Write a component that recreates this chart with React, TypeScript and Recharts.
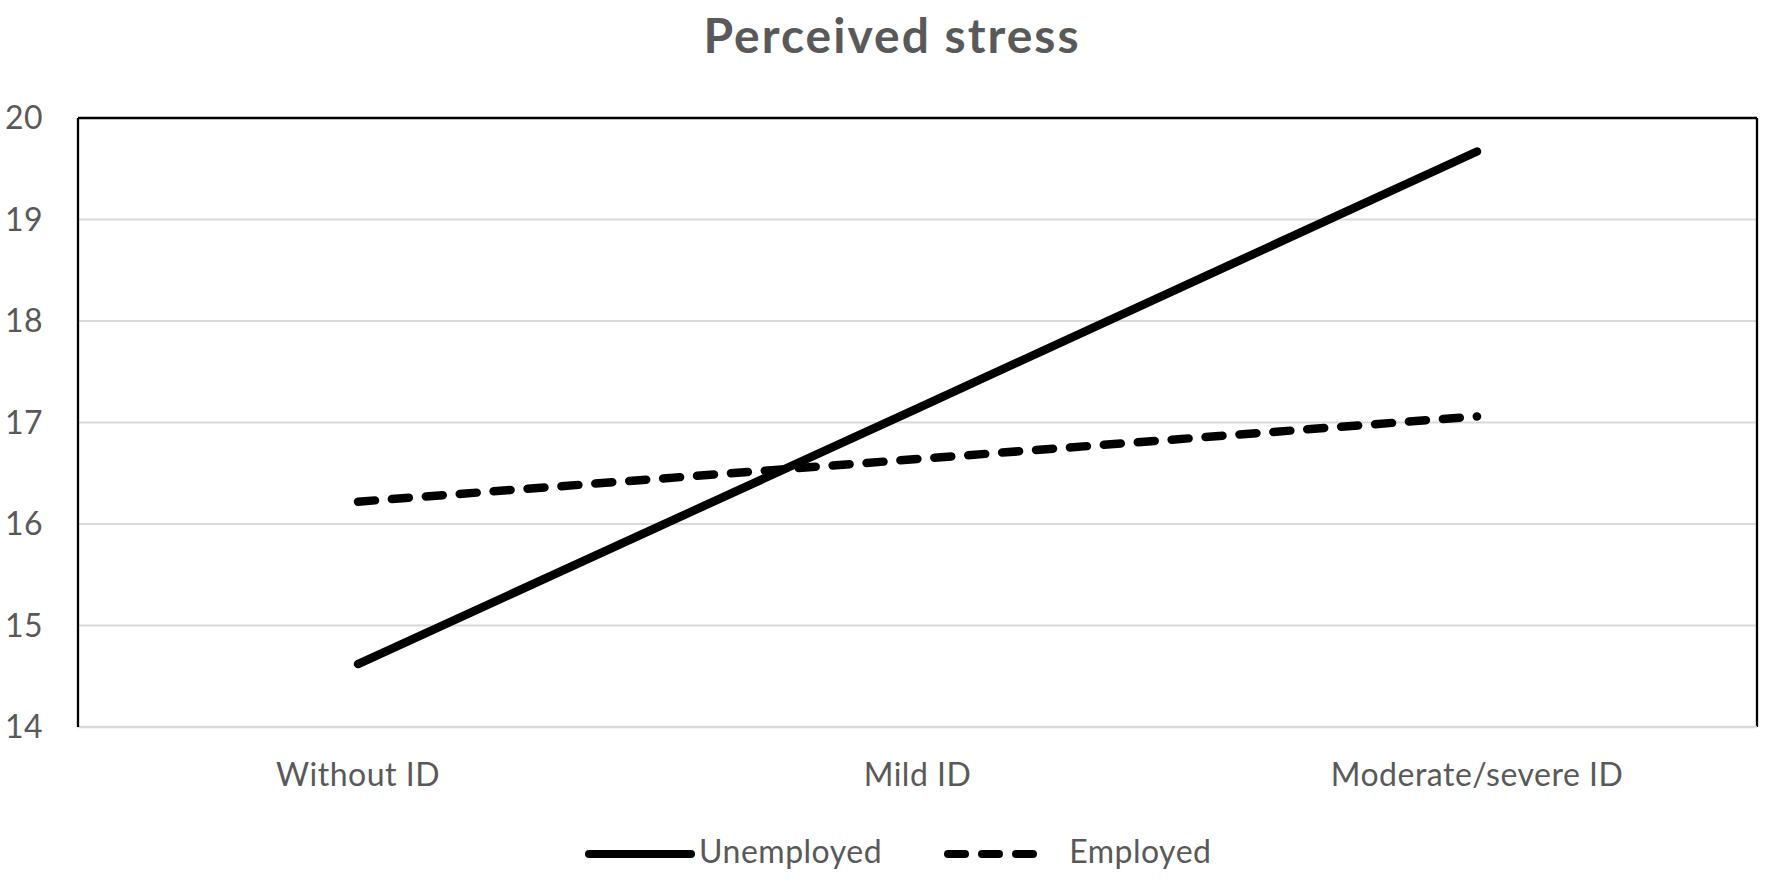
import React from "react";
import { LineChart, Line, XAxis, YAxis, CartesianGrid } from "recharts";

const categories = ["Without ID", "Mild ID", "Moderate/severe ID"];
const unemployed = [14.62, 17.14, 19.67];
const employed = [16.22, 16.64, 17.06];
const yTicks = [14, 15, 16, 17, 18, 19, 20];
const seriesNames = ["Unemployed", "Employed"];

const data = categories.map((name, i) => ({
  name,
  unemployed: unemployed[i],
  employed: employed[i],
}));

const FONT = "Lato, 'Open Sans', sans-serif";
const TEXT = "#595959";
const DASH = "17 17";
// half a category band, so points sit in the middle of each band like Excel
const BAND_PAD = 280;
const tickStyle = { fill: TEXT, fontSize: 32, fontFamily: FONT, letterSpacing: 0.5 };

const App = () => {
  return (
    <div
      style={{
        position: "absolute",
        left: 0,
        top: 0,
        width: 1772,
        height: 885,
        background: "#fff",
        fontFamily: FONT,
      }}
    >
      <div
        style={{
          position: "absolute",
          top: 11,
          left: 0,
          width: 1772,
          paddingLeft: 12,
          boxSizing: "border-box",
          textAlign: "center",
          fontSize: 48,
          lineHeight: "48px",
          letterSpacing: 2,
          fontWeight: 700,
          color: TEXT,
        }}
      >
        Perceived stress
      </div>

      <LineChart
        width={1772}
        height={885}
        data={data}
        margin={{ top: 118, right: 15, left: 0, bottom: 98 }}
      >
        <CartesianGrid vertical={false} stroke="#d9d9d9" strokeWidth={2} />
        {/* top and right edges of the plot frame */}
        <CartesianGrid
          stroke="#000"
          strokeWidth={2.3}
          horizontalCoordinatesGenerator={({ offset }) => [offset.top]}
          verticalCoordinatesGenerator={({ offset }) => [
            offset.left + offset.width,
          ]}
        />
        <XAxis
          dataKey="name"
          axisLine={{ stroke: "#d9d9d9", strokeWidth: 2.5 }}
          tickLine={false}
          tickSize={0}
          tickMargin={36}
          height={60}
          padding={{ left: BAND_PAD, right: BAND_PAD }}
          tick={tickStyle}
        />
        <YAxis
          domain={[14, 20]}
          ticks={yTicks}
          axisLine={{ stroke: "#000", strokeWidth: 2.3 }}
          tickLine={false}
          tickSize={0}
          tickMargin={35}
          width={78}
          tick={tickStyle}
        />
        <Line
          dataKey="unemployed"
          name={seriesNames[0]}
          stroke="#000"
          strokeWidth={8.5}
          strokeLinecap="round"
          dot={false}
          activeDot={false}
          isAnimationActive={false}
        />
        <Line
          dataKey="employed"
          name={seriesNames[1]}
          stroke="#000"
          strokeWidth={8.5}
          strokeLinecap="round"
          strokeDasharray={DASH}
          dot={false}
          activeDot={false}
          isAnimationActive={false}
        />
      </LineChart>

      {/* legend */}
      <div
        style={{
          position: "absolute",
          top: 834,
          left: 583,
          height: 40,
          display: "flex",
          alignItems: "center",
          fontSize: 32,
          letterSpacing: 0.5,
          color: TEXT,
        }}
      >
        <svg width={113} height={20}>
          <line
            x1={6}
            y1={10}
            x2={108}
            y2={10}
            stroke="#000"
            strokeWidth={8}
            strokeLinecap="round"
          />
        </svg>
        <span style={{ position: "relative", top: -4, marginLeft: 3 }}>
          {seriesNames[0]}
        </span>
        <svg width={104} height={20} style={{ marginLeft: 60 }}>
          <line
            x1={6}
            y1={10}
            x2={98}
            y2={10}
            stroke="#000"
            strokeWidth={8}
            strokeLinecap="round"
            strokeDasharray={DASH}
          />
        </svg>
        <span style={{ position: "relative", top: -4, marginLeft: 23 }}>
          {seriesNames[1]}
        </span>
      </div>
    </div>
  );
};

export default App;
